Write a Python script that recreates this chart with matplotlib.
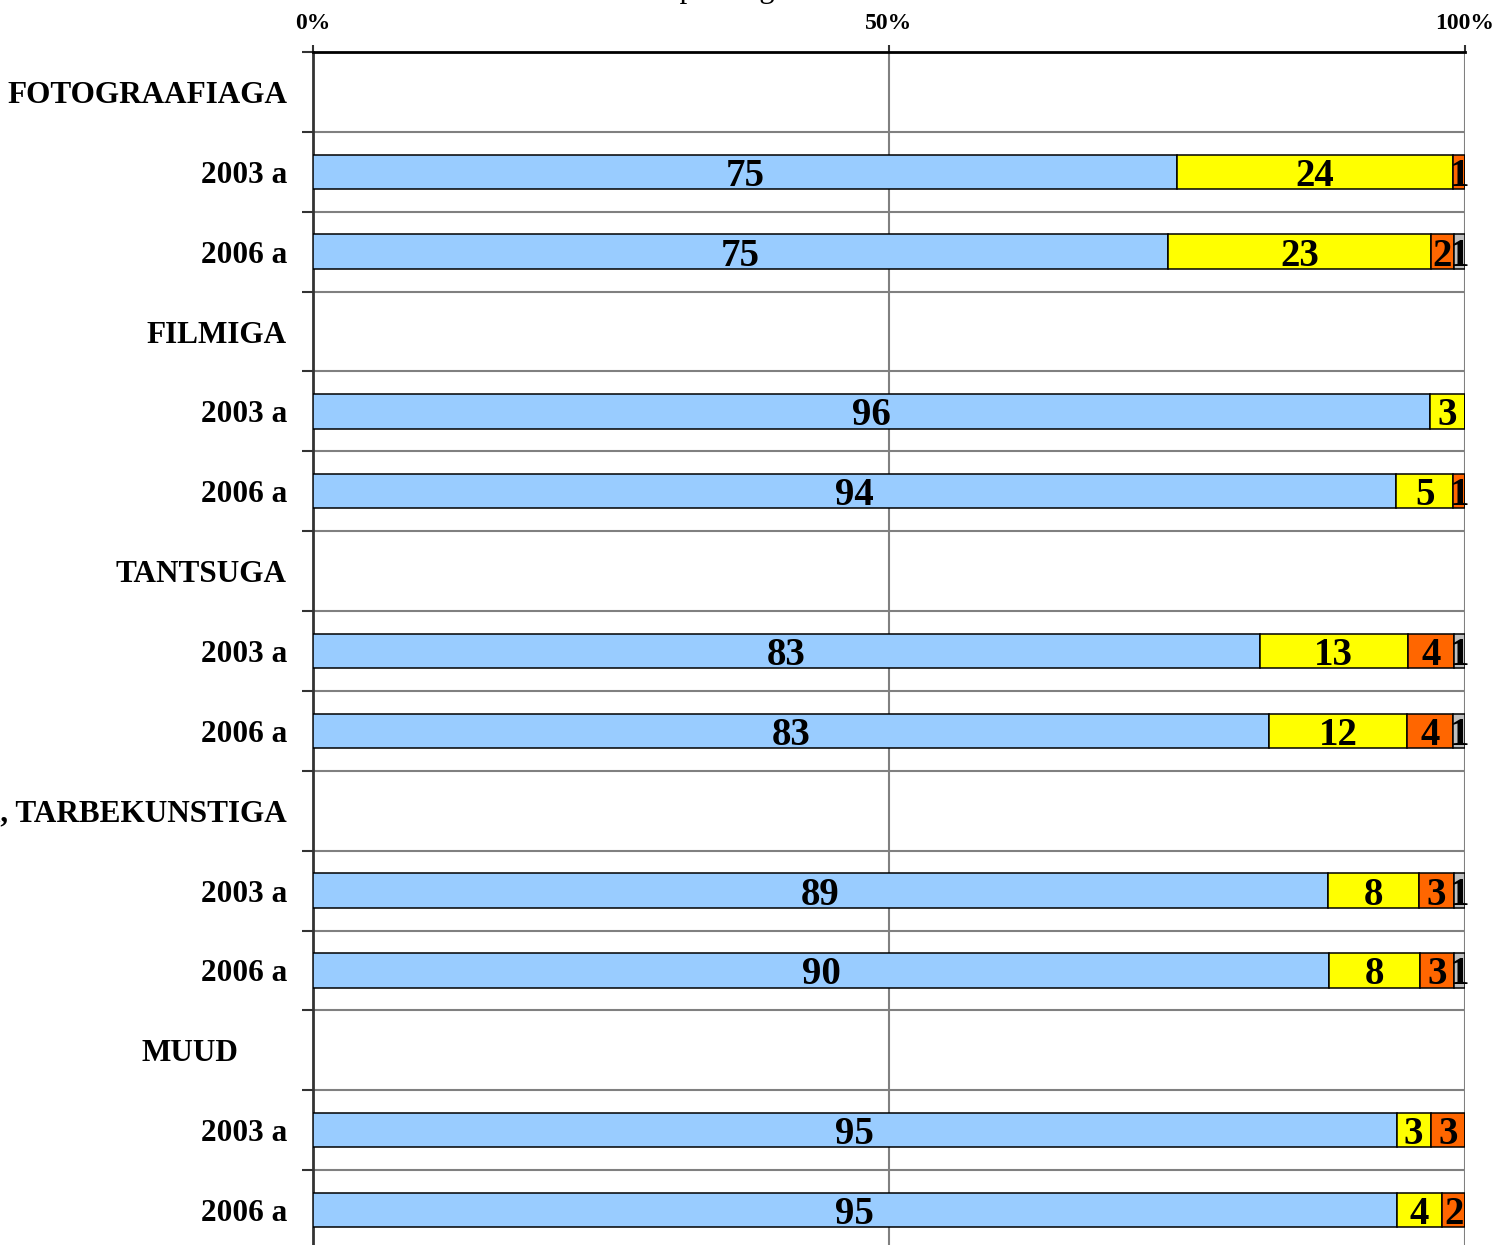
import matplotlib.pyplot as plt
import matplotlib.transforms as mtransforms
import numpy as np

plt.rcParams['font.family'] = ['Liberation Serif', 'DejaVu Serif']

# rows of the chart, top to bottom
groups = ["FOTOGRAAFIAGA", "FILMIGA", "TANTSUGA", "KUJUTAVA KUNSTIGA, TARBEKUNSTIGA", "MUUD"]
years = ["2003 a", "2006 a"]

# values per year row (same order as groups x years)
s1 = [75, 75, 96, 94, 83, 83, 89, 90, 95, 95]
s2 = [24, 23, 3, 5, 13, 12, 8, 8, 3, 4]
s3 = [1, 2, 0, 1, 4, 4, 3, 3, 3, 2]
s4 = [0, 1, 0, 0, 1, 1, 1, 1, 0, 0]
colors = ["#99CCFF", "#FFFF00", "#FF6600", "#C0C0C0"]

fig = plt.figure(figsize=(14.95, 12.45), dpi=100)
ax = fig.add_axes([313/1495, -5/1245, 1152/1495, 1198/1245])

labels = []
bar_pos = []
pos = 0
for g in groups:
    labels.append((pos, g, True))
    pos += 1
    for y in years:
        labels.append((pos, y, False))
        bar_pos.append(pos)
        pos += 1
nrows = pos

data = np.array([s1, s2, s3, s4], dtype=float)
totals = data.sum(axis=0)
shares = data / totals
left = np.zeros(len(bar_pos))
for k in range(4):
    ax.barh(bar_pos, shares[k], left=left, height=0.43, color=colors[k],
            edgecolor='black', linewidth=1.1, zorder=3)
    for i, p in enumerate(bar_pos):
        if data[k][i] > 0:
            ax.text(left[i] + shares[k][i] / 2, p, "%d" % data[k][i], ha='center',
                    va='center_baseline', fontsize=28, fontweight='bold', zorder=4)
    left = left + shares[k]

ax.set_xlim(0, 1)
ax.set_ylim(nrows - 0.5, -0.5)

# gridlines at category boundaries
for b in np.arange(0.5, nrows - 0.5, 1):
    ax.axhline(b, color='#808080', lw=1.5, zorder=1)
for x in [0.5, 1.0]:
    ax.axvline(x, color='#808080', lw=1.5, zorder=1)

ax.set_yticks(np.arange(-0.5, nrows, 1))
ax.set_yticklabels([])
ax.tick_params(axis='y', length=8, width=1.5, color='#333333', direction='out')

ax.xaxis.tick_top()
ax.set_xticks([0, 0.5, 1.0])
ax.set_xticklabels(["0%", "50%", "100%"], fontsize=17, fontweight='bold')
ax.tick_params(axis='x', length=5, width=1.5, color='#333333', pad=8)

for s in ['right', 'bottom']:
    ax.spines[s].set_visible(False)
ax.spines['top'].set_linewidth(2)
ax.spines['top'].set_color('black')
ax.spines['left'].set_linewidth(2)
ax.spines['left'].set_color('#333333')

trans = mtransforms.blended_transform_factory(ax.transAxes, ax.transData)
for p, txt, is_group in labels:
    off = -26
    if txt == "MUUD":
        off = -75
    t = mtransforms.offset_copy(trans, fig=fig, x=off, y=0, units='dots')
    ax.text(0, p, txt, transform=t, ha='right', va='center_baseline', fontsize=22.5,
            fontweight='bold', clip_on=False)

# title, mostly outside the picture
fig.text(0.217, 1.0 + 3/1245, "Kunstiharrastuses osalemine põhiliigiti", ha='left',
         va='baseline', fontsize=22)

plt.savefig("out.png", dpi=100)
plt.close()
